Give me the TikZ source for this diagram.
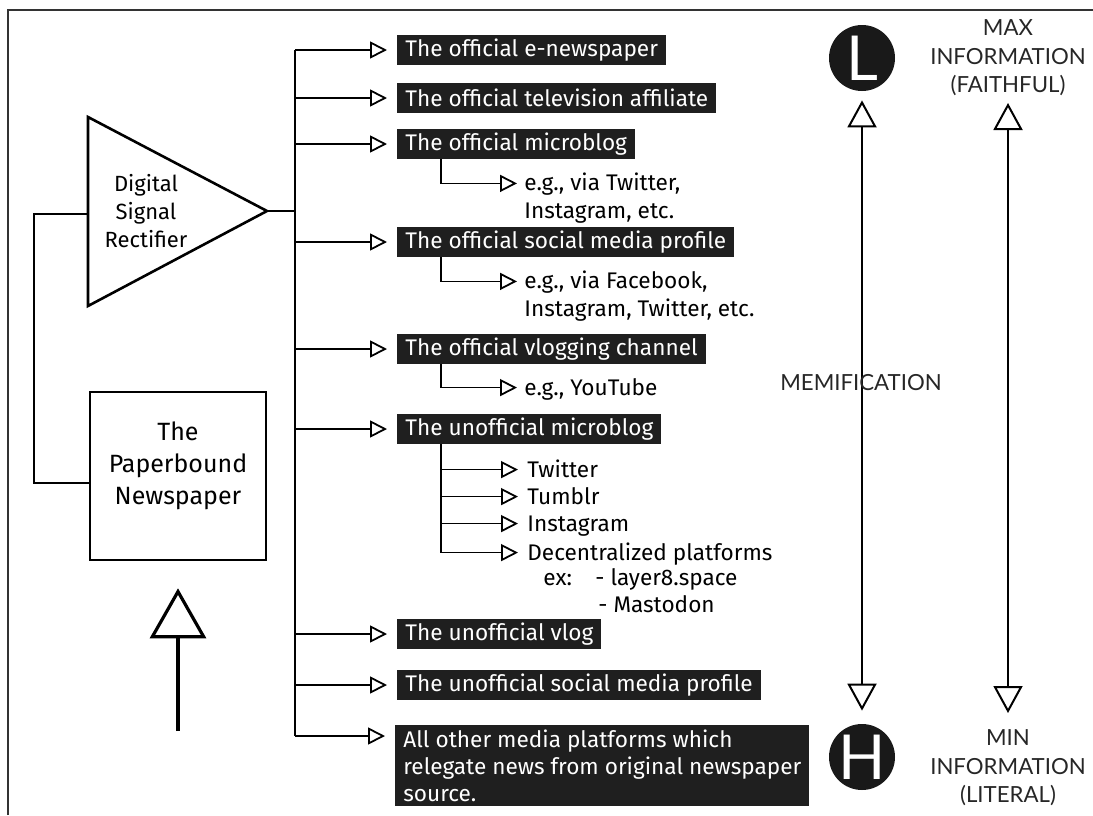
\documentclass[tikz,border=0pt]{standalone}
\usepackage{fontspec}
\setmainfont{Fira Sans}
\newfontfamily\gaugefont{Lato}
\usetikzlibrary{arrows.meta, calc}

\tikzset{
  wire/.style={line width=0.8pt},
  link/.style={wire, -{Triangle[open, length=8.5pt, width=8.5pt, line width=0.9pt]}},
  medium/.style={fill=black!88, text=white, anchor=west, inner xsep=4pt, inner ysep=0pt,
    minimum height=15pt, font=\fontsize{11.3}{13.6}\selectfont},
  note/.style={anchor=base west, align=left, inner sep=0pt, font=\fontsize{11.3}{13.6}\selectfont},
  gauge/.style={line width=1pt, {Triangle[open, length=13.5pt, width=14.5pt, line width=1pt]}-{Triangle[open, length=13.5pt, width=14.5pt, line width=1pt]}},
  gaugetext/.style={align=center, text=black!85, font=\gaugefont\fontsize{11.1}{14.2}\selectfont},
  pole/.style={circle, fill=black!90, text=white, minimum size=33pt, inner sep=0pt,
    font=\gaugefont\fontsize{31}{31}\selectfont}
}

\begin{document}
\begin{tikzpicture}[x=0.5pt, y=-0.5pt]
\useasboundingbox (0,0) rectangle (1093,815);
% frame
\draw[line width=1pt, black!80] (8,815) -- (8,10) -- (1093,10);

% rectifier
\draw[line width=1.3pt] (88,117) -- (267,211) coordinate (ampout) -- (88,306) -- cycle;
\coordinate (ampin) at (88,214);
\node[align=center, font=\fontsize{11}{14.2}\selectfont] (amp) at (146,211) {Digital\\Signal\\Rectifier};

% paper source
\node[draw, line width=1.3pt, minimum width=88pt, minimum height=84pt,
  label={[align=center, font=\fontsize{12.5}{16}\selectfont, yshift=5pt]center:The\\Paperbound\\Newspaper}] (paper) at (178,476) {};
\draw[wire] (ampin) -- (34,214) |- ([yshift=-3.5pt]paper.west);

\coordinate (feed) at (178,731);
\draw[line width=2pt, shorten >=13.5pt, -{Triangle[open, length=25pt, width=28pt, line width=1.6pt]}] (feed) -- (paper.south);

% bus
\coordinate (bustop) at (295,50);
\coordinate (busbot) at (295,736);
\draw[wire] (bustop) -- (busbot);
\draw[wire] (ampout) -- (ampout -| bustop);

% outlets
\foreach \y/\name/\txt in {50/enews/{The official e-newspaper},
    98/tv/{The official television affiliate},
    144/omb/{The official microblog},
    242/osm/{The official social media profile},
    349/ovl/{The official vlogging channel},
    429/umb/{The unofficial microblog},
    634/uvl/{The unofficial vlog},
    685/usm/{The unofficial social media profile}}
{
  \node[medium] (\name) at (397,\y) {\txt};
  \draw[link, shorten >=5pt] (\name.west -| bustop) -- (\name.west);
}

\node[medium, anchor=north west, align=left, inner ysep=2pt] (other) at (395,725)
  {All other media platforms which\\relegate news from original newspaper\\source.};
\draw[link, shorten >=5pt] (busbot) -- (other.west |- busbot);

% examples (base = last line)
\node[note] (ombeg) at (524,218) {e.g., via Twitter,\\Instagram, etc.};
\node[note] (osmeg) at (524,316) {e.g., via Facebook,\\Instagram, Twitter, etc.};
\node[note] (ovleg) at (524,395) {e.g., YouTube};
\draw[link, shorten >=3.5pt] ($(omb.south west)+(44,0)$) |- ([yshift=17.3pt]ombeg.base west);
\draw[link, shorten >=3.5pt] ($(osm.south west)+(44,0)$) |- ([yshift=17.3pt]osmeg.base west);
\draw[link, shorten >=3.5pt] ($(ovl.south west)+(44,0)$) |- ([yshift=3.7pt]ovleg.base west);

\node[note] (tw) at (527,477) {Twitter};
\node[note] (tu) at (527,504) {Tumblr};
\node[note] (ig) at (527,531) {Instagram};
\node[note] (dc) at (527,560) {Decentralized platforms};
\node[note] (ex) at (543,585) {ex:};
\node[note] (layer) at (595,585) {- layer8.space};
\node[note] (masto) at (598,612) {- Mastodon};
\coordinate (umbtap) at ($(umb.south west)+(44,0)$);
\foreach \n in {tw,tu,ig,dc}
  \draw[link, shorten >=4.5pt] (umbtap) |- ([yshift=3.7pt]\n.base west);

% memification scale
\node[pole] (low) at (862,58) {L};
\node[pole] (high) at (862,757) {H};
\draw[gauge, shorten <=4.5pt, shorten >=6.5pt] (low) -- (high);
\node[gaugetext] (memi) at (861,383) {MEMIFICATION};

\node[gaugetext] (maxinfo) at (1008,58) {MAX\\INFORMATION\\(FAITHFUL)};
\node[gaugetext] (mininfo) at (1008,768) {MIN\\INFORMATION\\(LITERAL)};
\draw[gauge] (maxinfo.south |- 0,103) -- (mininfo.north |- 0,713);
\end{tikzpicture}
\end{document}
